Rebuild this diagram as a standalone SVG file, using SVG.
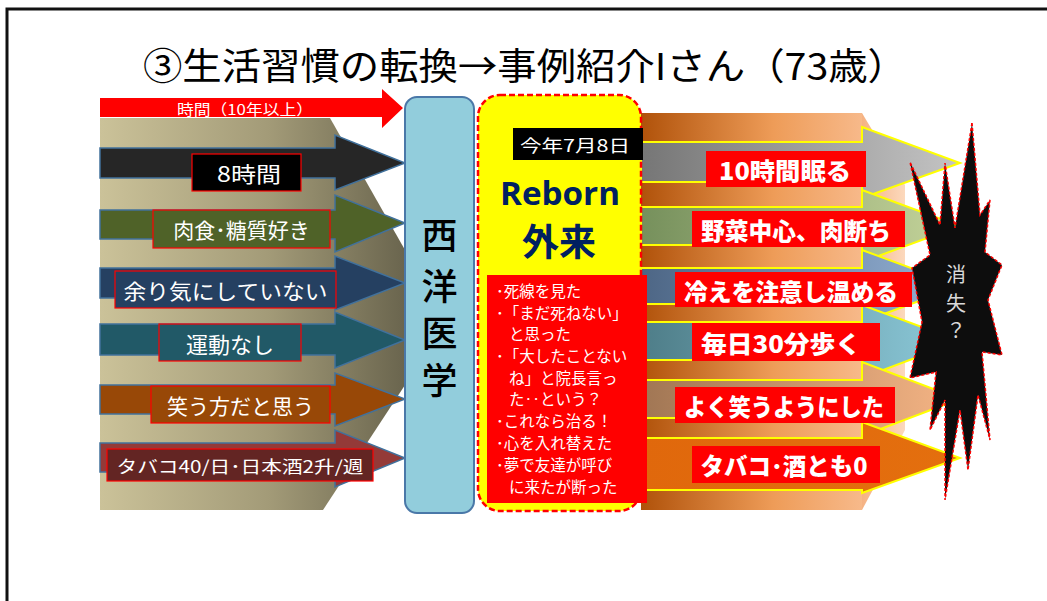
<svg xmlns="http://www.w3.org/2000/svg" width="1047" height="601" viewBox="0 0 1047 601">
<defs>
<linearGradient id="tan" x1="0" x2="1" y1="0" y2="0"><stop offset="0" stop-color="#cbc299"/><stop offset="0.55" stop-color="#a39b78"/><stop offset="1" stop-color="#6a654e"/></linearGradient>
<linearGradient id="orng" x1="0" x2="1" y1="0" y2="0"><stop offset="0" stop-color="#b0520a"/><stop offset="0.6" stop-color="#ee9c58"/><stop offset="1" stop-color="#f7b98a"/></linearGradient>
<linearGradient id="peach" x1="0" x2="1" y1="0" y2="0"><stop offset="0" stop-color="#f5b283"/><stop offset="1" stop-color="#fcd9bd"/></linearGradient>
<linearGradient id="g1" x1="0" x2="1"><stop offset="0" stop-color="#767676"/><stop offset="1" stop-color="#c4c4c4"/></linearGradient>
<linearGradient id="g2" x1="0" x2="1"><stop offset="0" stop-color="#76905c"/><stop offset="1" stop-color="#c6d59c"/></linearGradient>
<linearGradient id="g3" x1="0" x2="1"><stop offset="0" stop-color="#4d6685"/><stop offset="1" stop-color="#95b2d6"/></linearGradient>
<linearGradient id="g4" x1="0" x2="1"><stop offset="0" stop-color="#4e7d88"/><stop offset="1" stop-color="#8ecbdb"/></linearGradient>
<linearGradient id="g5" x1="0" x2="1"><stop offset="0" stop-color="#a07654"/><stop offset="1" stop-color="#f6b585"/></linearGradient>
<linearGradient id="g6" x1="0" x2="1"><stop offset="0" stop-color="#e0680c"/><stop offset="1" stop-color="#e46f0e"/></linearGradient>
</defs>
<style>
.la{stroke:#41719c;stroke-width:1.5}
.ra{stroke:#ffff00;stroke-width:2}
.lb{stroke:#ff0000;stroke-width:1.2}
.lt{font-family:"Noto Sans CJK JP","Noto Sans",sans-serif;fill:#ffffff;text-anchor:middle;dominant-baseline:central}
.rb{fill:#ff0000}
.rt{font-family:"Noto Sans CJK JP","Noto Sans",sans-serif;font-weight:900;font-size:24px;fill:#ffffff;text-anchor:middle;dominant-baseline:central}
.lst{font-family:"Noto Sans CJK JP","Noto Sans",sans-serif;font-size:15.5px;fill:#ffffff}
</style>
<rect width="1047" height="601" fill="#ffffff"/>
<path d="M7,601 V9 H1047" fill="none" stroke="#111111" stroke-width="3"/>
<text x="525" y="64" font-family="'Noto Sans CJK JP','Noto Sans',sans-serif" font-size="37" fill="#000000" text-anchor="middle" dominant-baseline="central" textLength="764" lengthAdjust="spacingAndGlyphs">③生活習慣の転換→事例紹介Iさん（73歳）</text>

<g id="left-background">
<polygon points="100,118 330,118 405,250 405,385 323,510 100,510" fill="url(#tan)"/>
</g>
<g id="time-arrow">
<polygon points="100,98 382,98 382,89 403,108 382,128 382,117 100,117" fill="#ff0000"/>
<text class="lt" x="245" y="108" font-size="15" textLength="136" lengthAdjust="spacingAndGlyphs">時間（10年以上）</text>
</g>
<g id="connectors">
<polygon class="la" fill="#262626" points="100,148 335,148 335,135 405,163 335,190 335,178 100,178"/>
<polygon class="la" fill="#4f6228" points="100,210 335,210 335,195 405,223 335,252 335,239 100,239"/>
<polygon class="la" fill="#254061" points="100,268 335,268 335,256 405,283 335,310 335,298 100,298"/>
<polygon class="la" fill="#215967" points="100,324 335,324 335,312 405,340 335,368 335,355 100,355"/>
<polygon class="la" fill="#984807" points="100,385 335,385 335,373 405,399 335,426 335,414 100,414"/>
<polygon class="la" fill="#943a38" points="100,443 335,443 335,430 405,458 335,487 335,472 100,472"/>
</g>
<g id="l1"><rect class="lb" x="192" y="154" width="109" height="37" fill="#000000"/><text class="lt" x="249" y="172.5" font-size="21" textLength="64" lengthAdjust="spacingAndGlyphs">8時間</text></g>
<g id="l2"><rect class="lb" x="153" y="210" width="177" height="38" fill="#4f6228"/><text class="lt" x="241.5" y="229" font-size="21">肉食･糖質好き</text></g>
<g id="l3"><rect class="lb" x="115" y="271" width="221" height="37" fill="#254061"/><text class="lt" x="225.5" y="289.5" font-size="21" textLength="204" lengthAdjust="spacingAndGlyphs">余り気にしていない</text></g>
<g id="l4"><rect class="lb" x="159" y="324" width="142" height="37" fill="#215967"/><text class="lt" x="230" y="342.5" font-size="22">運動なし</text></g>
<g id="l5"><rect class="lb" x="151" y="386" width="179" height="37" fill="#984807"/><text class="lt" x="240.5" y="404.5" font-size="21">笑う方だと思う</text></g>
<g id="l6"><rect class="lb" x="107" y="449" width="266" height="32" fill="#632523"/><text class="lt" x="240" y="465" font-size="17" textLength="247" lengthAdjust="spacingAndGlyphs">タバコ40/日･日本酒2升/週</text></g>

<g id="seiyo">
<rect x="405" y="97" width="69" height="416" rx="12" fill="#92cddc" stroke="#4a78a8" stroke-width="2"/>
<g font-family="'Noto Sans CJK JP',sans-serif" font-size="36" font-weight="500" fill="#000000" text-anchor="middle" dominant-baseline="central">
<text x="439.5" y="233">西</text><text x="439.5" y="284">洋</text><text x="439.5" y="331">医</text><text x="439.5" y="378">学</text>
</g>
</g>

<g id="right-background">
<rect x="641" y="113" width="221" height="397" fill="url(#orng)"/>
<polygon points="862,113 905,185 905,430 862,510" fill="url(#peach)"/>
</g>
<g id="right-arrows">
<polygon class="ra" fill="url(#g1)" points="641,142 862,142 862,127 960,163 862,198 862,182 641,182"/>
<polygon class="ra" fill="url(#g2)" points="641,207 862,207 862,190 960,226 862,262 862,245 641,245"/>
<polygon class="ra" fill="url(#g3)" points="641,268 862,268 862,250 960,286 862,322 862,304 641,304"/>
<polygon class="ra" fill="url(#g4)" points="641,322 862,322 862,305 960,341 862,378 862,360 641,360"/>
<polygon class="ra" fill="url(#g5)" points="641,380 862,380 862,362 960,399 862,436 862,418 641,418"/>
<polygon class="ra" fill="url(#g6)" points="641,438 862,438 862,422 960,458 862,493 862,490 641,490"/>
</g>

<g id="reborn">
<rect x="478" y="95" width="163" height="416" rx="22" fill="#ffff00" stroke="#ff0000" stroke-width="2.5" stroke-dasharray="6 3"/>
<rect x="513" y="128" width="130" height="32" fill="#000000"/>
<text class="lt" x="575" y="144" font-size="17" textLength="110" lengthAdjust="spacingAndGlyphs">今年7月8日</text>
<text x="560" y="192" font-family="'Open Sans','Liberation Sans',sans-serif" font-weight="700" font-size="33" fill="#002060" text-anchor="middle" dominant-baseline="central" textLength="120" lengthAdjust="spacingAndGlyphs">Reborn</text>
<text x="559" y="240" font-family="'Noto Sans CJK JP',sans-serif" font-weight="700" font-size="37" fill="#002060" text-anchor="middle" dominant-baseline="central">外来</text>
</g>
<g id="episodes">
<rect x="487" y="275" width="160" height="228" fill="#ff0000"/>
<g class="lst">
<text x="496" y="297">･死線を見た</text>
<text x="496" y="318.5">･「まだ死ねない」</text>
<text x="509" y="340">と思った</text>
<text x="496" y="362">･「大したことない</text>
<text x="509" y="384">ね」と院長言っ</text>
<text x="509" y="405">た‥という？</text>
<text x="496" y="427">･これなら治る！</text>
<text x="496" y="449">･心を入れ替えた</text>
<text x="496" y="471">･夢で友達が呼び</text>
<text x="509" y="493">に来たが断った</text>
</g>
</g>

<g id="r1"><rect class="rb" x="706" y="151" width="160" height="36"/><text class="rt" x="785" y="169" textLength="132" lengthAdjust="spacingAndGlyphs">10時間眠る</text></g>
<g id="r2"><rect class="rb" x="692" y="211" width="213" height="36"/><text class="rt" x="796" y="229" textLength="190" lengthAdjust="spacingAndGlyphs">野菜中心、肉断ち</text></g>
<g id="r3"><rect class="rb" x="675" y="272" width="237" height="35"/><text class="rt" x="791" y="290" textLength="214" lengthAdjust="spacingAndGlyphs">冷えを注意し温める</text></g>
<g id="r4"><rect class="rb" x="692" y="323" width="188" height="38"/><text class="rt" x="781" y="342" textLength="160" lengthAdjust="spacingAndGlyphs">毎日30分歩く</text></g>
<g id="r5"><rect class="rb" x="675" y="387" width="220" height="36"/><text class="rt" x="784" y="405" textLength="200" lengthAdjust="spacingAndGlyphs">よく笑うようにした</text></g>
<g id="r6"><rect class="rb" x="692" y="446" width="188" height="37"/><text class="rt" x="784" y="464.5" textLength="167" lengthAdjust="spacingAndGlyphs">タバコ･酒とも0</text></g>

<g id="burst">
<polygon points="972,123 980,215 990,200 985,252 1002,265 988,300 1002,355 982,352 990,440 978,395 968,470 960,410 945,500 945,400 930,430 936,372 910,378 922,322 912,268 930,255 910,162 940,225 945,163 955,228" fill="#0d0d0d" stroke="#ff0000" stroke-width="1.5" stroke-dasharray="3 2"/>
<g font-family="'Noto Sans CJK JP',sans-serif" font-size="20" fill="#d9d9d9" text-anchor="middle" dominant-baseline="central">
<text x="956" y="273">消</text><text x="956" y="302">失</text><text x="956" y="329">？</text>
</g>
</g>
</svg>
